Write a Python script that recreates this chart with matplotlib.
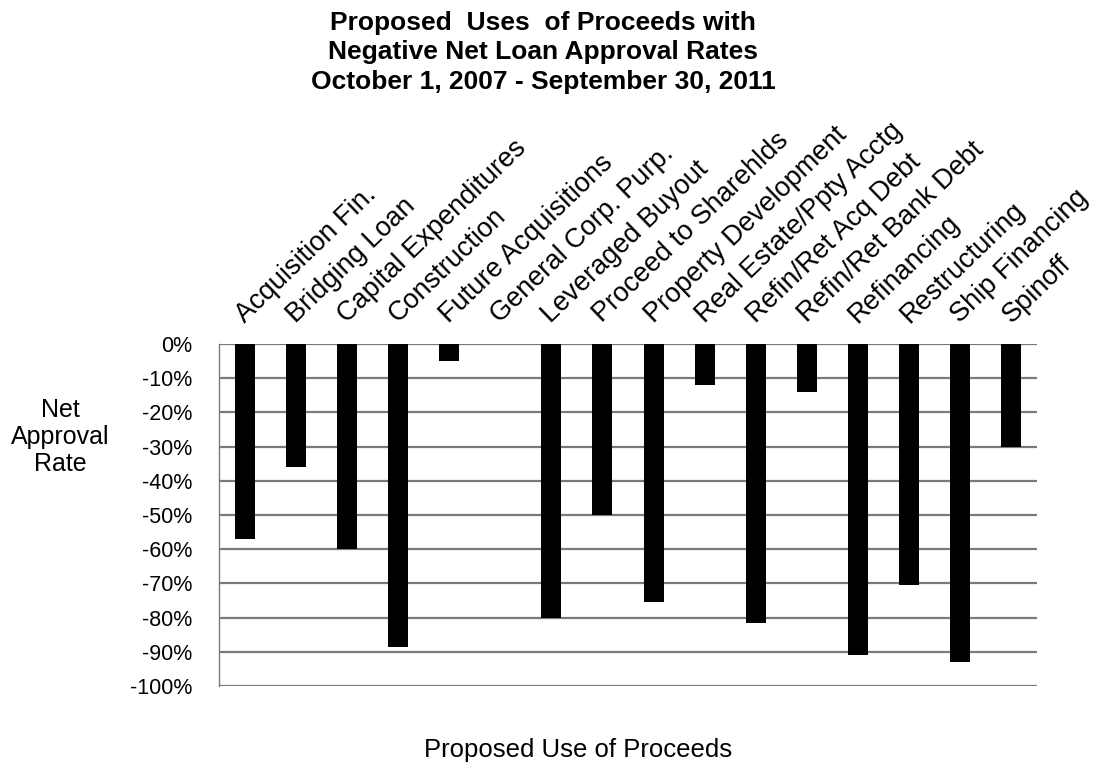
import matplotlib.pyplot as plt
import numpy as np

plt.rcParams['font.family'] = ['Liberation Sans', 'DejaVu Sans']

# Net approval rate by proposed use of proceeds (percent)
uses = ['Acquisition Fin.', 'Bridging Loan', 'Capital Expenditures',
        'Construction', 'Future Acquisitions', 'General Corp. Purp.',
        'Leveraged Buyout', 'Proceed to Sharehlds', 'Property Development',
        'Real Estate/Ppty Acctg', 'Refin/Ret Acq Debt', 'Refin/Ret Bank Debt',
        'Refinancing', 'Restructuring', 'Ship Financing', 'Spinoff']
net_rate = [-57, -36, -60, -88.5, -5, 0, -80, -50, -75.5, -12, -81.5, -14,
            -91, -70.5, -93, -30]
y_ticks = list(range(0, -101, -10))

fig = plt.figure(figsize=(10.98, 7.63), dpi=100)
ax = fig.add_axes([0.1995, 0.1009, 0.7449, 0.4482])

x = np.arange(len(uses))
ax.bar(x, net_rate, width=0.39, color='black', zorder=3)

ax.set_xlim(-0.5, len(uses) - 0.5)
ax.set_ylim(-100, 0)
ax.set_yticks(y_ticks)
ax.set_yticklabels(['%d%%' % v for v in y_ticks], fontsize=15.5)
ax.yaxis.grid(True, color='#7a7a7a', linewidth=1.6, zorder=0)
ax.tick_params(axis='y', length=0, pad=19)

# category names sit above the plot, slanted
ax.xaxis.tick_top()
ax.set_xticks(x)
ax.set_xticklabels(uses, rotation=44, ha='left', va='baseline',
                   rotation_mode='anchor', fontsize=19.5)
ax.tick_params(axis='x', length=0, pad=15)

for side in ['top', 'right', 'bottom']:
    ax.spines[side].set_visible(False)
ax.spines['left'].set_color('#7a7a7a')
ax.spines['left'].set_linewidth(1.0)

fig.text(0.4945, 1 - 11 / 763, 'Proposed  Uses  of Proceeds with\n'
         'Negative Net Loan Approval Rates\n'
         'October 1, 2007 - September 30, 2011',
         ha='center', va='top', fontsize=19, fontweight='bold',
         linespacing=1.28)
fig.text(60 / 1098, 1 - 437 / 763, 'Net\nApproval\nRate', ha='center',
         va='center', multialignment='center', fontsize=18, linespacing=1.15)
fig.text(578 / 1098, 1 - 757 / 763, 'Proposed Use of Proceeds', ha='center',
         va='baseline', fontsize=18.5)

fig.savefig('out.png', dpi=100)
